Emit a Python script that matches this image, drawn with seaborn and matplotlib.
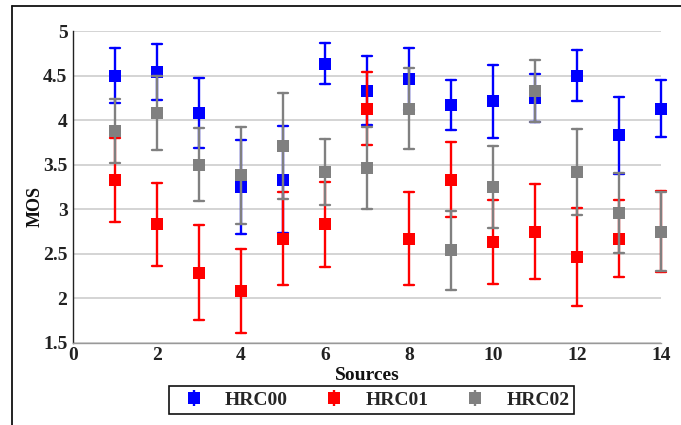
import numpy as np
import pandas as pd
import matplotlib
matplotlib.use("Agg")
import matplotlib.pyplot as plt
import seaborn as sns
from matplotlib.lines import Line2D
from matplotlib.legend_handler import HandlerErrorbar
from matplotlib.container import ErrorbarContainer

# ---------------- data ----------------
sources = list(range(1, 15))
hrc_names = ["HRC00", "HRC01", "HRC02"]

hrc00_mos = [4.50, 4.54, 4.08, 3.25, 3.33, 4.63, 4.33, 4.46, 4.17, 4.21, 4.25, 4.50, 3.83, 4.13]
hrc00_err = [0.31, 0.31, 0.39, 0.53, 0.60, 0.23, 0.39, 0.35, 0.28, 0.41, 0.27, 0.29, 0.43, 0.32]

hrc01_mos = [3.33, 2.83, 2.29, 2.08, 2.67, 2.83, 4.13, 2.67, 3.33, 2.63, 2.75, 2.46, 2.67, 2.75]
hrc01_err = [0.47, 0.47, 0.53, 0.47, 0.52, 0.48, 0.41, 0.52, 0.42, 0.47, 0.53, 0.55, 0.435, 0.45]

hrc02_mos = [3.88, 4.08, 3.50, 3.38, 3.71, 3.42, 3.46, 4.13, 2.54, 3.25, 4.33, 3.42, 2.96, 2.75]
hrc02_err = [0.36, 0.41, 0.41, 0.54, 0.60, 0.37, 0.46, 0.45, 0.44, 0.46, 0.35, 0.485, 0.445, 0.44]

xtick_values = [0, 2, 4, 6, 8, 10, 12, 14]
ytick_values = [1.5, 2, 2.5, 3, 3.5, 4, 4.5, 5]
ytick_labels = ["1.5", "2", "2.5", "3", "3.5", "4", "4.5", "5"]

colors = {"HRC00": "#0000ff", "HRC01": "#ff0000", "HRC02": "#808080"}

# long table: each point as its lower and upper bound (mean = MOS, range = error bar)
rows = []
for name, means, errs in [("HRC00", hrc00_mos, hrc00_err),
                          ("HRC01", hrc01_mos, hrc01_err),
                          ("HRC02", hrc02_mos, hrc02_err)]:
    for s, m, e in zip(sources, means, errs):
        rows.append({"Sources": s, "HRC": name, "MOS": m - e})
        rows.append({"Sources": s, "HRC": name, "MOS": m + e})
df = pd.DataFrame(rows)

# ---------------- style ----------------
sns.set_style("white")
plt.rcParams["font.family"] = ["Liberation Serif", "DejaVu Serif"]
plt.rcParams["font.weight"] = "bold"

fig = plt.figure(figsize=(6.81, 4.25), dpi=100)
ax = fig.add_axes([73 / 681, 1 - 343 / 425, 588 / 681, 312 / 425])

sns.pointplot(
    data=df, x="Sources", y="MOS", hue="HRC", hue_order=hrc_names,
    palette=colors, native_scale=True, estimator="mean",
    errorbar=lambda v: (v.min(), v.max()),
    markers="s", linestyles="none", capsize=0.26,
    err_kws={"linewidth": 1.7},
    markersize=8, markeredgewidth=0,
    legend=False, ax=ax,
)
for ln in ax.lines:
    ln.set_clip_on(False)

ax.set_xlim(0, 14)
ax.set_ylim(1.5, 5)
ax.set_xticks(xtick_values)
ax.set_xticklabels([str(v) for v in xtick_values])
ax.set_yticks(ytick_values)
ax.set_yticklabels(ytick_labels)

ax.set_axisbelow(True)
ax.yaxis.grid(True, color="#d4d4d4", linewidth=1.4)
ax.xaxis.grid(False)

for sp in ["top", "right"]:
    ax.spines[sp].set_visible(False)
ax.spines["left"].set_color("#222222")
ax.spines["left"].set_linewidth(1.0)
ax.spines["bottom"].set_color("#999999")
ax.spines["bottom"].set_linewidth(1.0)

ax.tick_params(axis="x", direction="in", length=3, color="#aaaaaa", pad=3,
               labelsize=14, labelcolor="#222222")
ax.tick_params(axis="y", direction="in", length=4, color="#222222", pad=4,
               labelsize=14, labelcolor="#222222")
for lab in ax.get_xticklabels() + ax.get_yticklabels():
    lab.set_fontweight("bold")

ax.set_xlabel("Sources", fontsize=14, fontweight="bold", color="#111111")
ax.set_ylabel("MOS", fontsize=13, fontweight="bold", color="#111111")
ax.xaxis.set_label_coords(0.5, -0.103)
ax.xaxis.label.set_va("center")
ax.yaxis.set_label_coords(-0.065, 0.439)
ax.yaxis.label.set_va("center")
ax.yaxis.label.set_ha("center")

# legend handles (errorbar style)
handles = []
for name in hrc_names:
    h = ax.errorbar([np.nan], [np.nan], yerr=[[np.nan], [np.nan]], fmt="s",
                    color=colors[name], ms=8, mew=0, capsize=4,
                    elinewidth=1.7, capthick=1.7)
    handles.append(h)
leg = fig.legend(handles, hrc_names, loc="center", bbox_to_anchor=(0.546, 0.0588),
                 ncol=3, frameon=True, fancybox=False, edgecolor="#111111",
                 framealpha=1,
                 prop={"family": "Liberation Serif", "weight": "bold", "size": 14},
                 handlelength=2.0, handletextpad=0.6, columnspacing=1.4,
                 borderpad=0.25,
                 handler_map={ErrorbarContainer: HandlerErrorbar(yerr_size=0.4)})
leg.get_frame().set_linewidth(1.2)

# outer frame (top and left edges visible)
fig.add_artist(Line2D([12 / 681, 12 / 681], [0, 1 - 6 / 425],
                      transform=fig.transFigure, color="#111111", lw=1.3))
fig.add_artist(Line2D([12 / 681, 1], [1 - 6 / 425, 1 - 6 / 425],
                      transform=fig.transFigure, color="#111111", lw=1.3))

fig.savefig("out.png", dpi=100)
